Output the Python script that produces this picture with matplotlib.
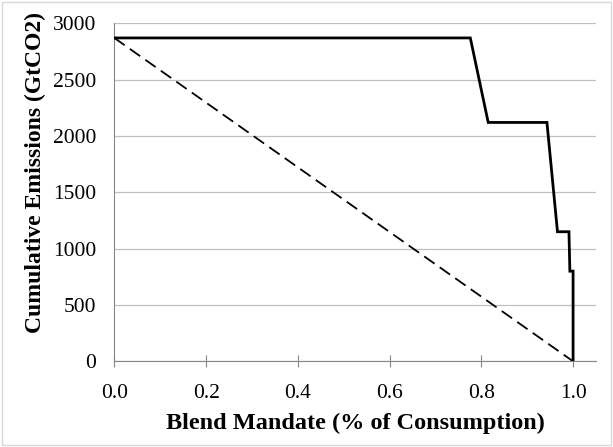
import matplotlib.pyplot as plt
from matplotlib.patches import Rectangle

# blend mandate (fraction of consumption) vs cumulative emissions
mandate = [0.0, 0.776, 0.815, 0.943, 0.966, 0.991, 0.993, 1.0, 1.0]
emissions = [2870, 2870, 2120, 2120, 1150, 1150, 800, 800, 0]

# linear reference
ref_mandate = [0.0, 1.0]
ref_emissions = [2870, 0]

plt.rcParams['font.family'] = ['Liberation Serif', 'DejaVu Serif']

fig = plt.figure(figsize=(6.13, 4.47), dpi=100)
ax = fig.add_axes([0.1865, 0.1917, 0.9723 - 0.1865, 0.9479 - 0.1917])

fig.patches.append(Rectangle((0.004, 0.004), 0.992, 0.992, transform=fig.transFigure,
                             fill=False, edgecolor='#d9d9d9', linewidth=1))

ax.plot(mandate, emissions, color='black', linewidth=2.0, solid_joinstyle='miter', zorder=3)
ax.plot(ref_mandate, ref_emissions, color='black', linewidth=1.3, linestyle=(0, (7, 3.5)), zorder=3)

ax.set_xlim(0, 1.05)
ax.set_ylim(0, 3000)
ax.set_xticks([0.0, 0.2, 0.4, 0.6, 0.8, 1.0])
ax.set_xticklabels(['0.0', '0.2', '0.4', '0.6', '0.8', '1.0'])
ax.set_yticks(range(0, 3001, 500))

ax.grid(axis='y', color='#c0c0c0', linewidth=0.9)
ax.set_axisbelow(True)
for s in ['top', 'right']:
    ax.spines[s].set_visible(False)
ax.spines['left'].set_color('#868686')
ax.spines['bottom'].set_color('#868686')
ax.tick_params(axis='x', direction='inout', length=8, color='#868686', labelsize=15.5, pad=12)
ax.tick_params(axis='y', length=0, labelsize=15.5, pad=13)

ax.set_xlabel('Blend Mandate (% of Consumption)', fontsize=17.5, fontweight='bold')
ax.set_ylabel('Cumulative Emissions (GtCO2)', fontsize=17, fontweight='bold')
ax.xaxis.set_label_coords(0.5, -0.151)
ax.yaxis.set_label_coords(-0.142, 0.56)

fig.savefig('out.png', dpi=100)
